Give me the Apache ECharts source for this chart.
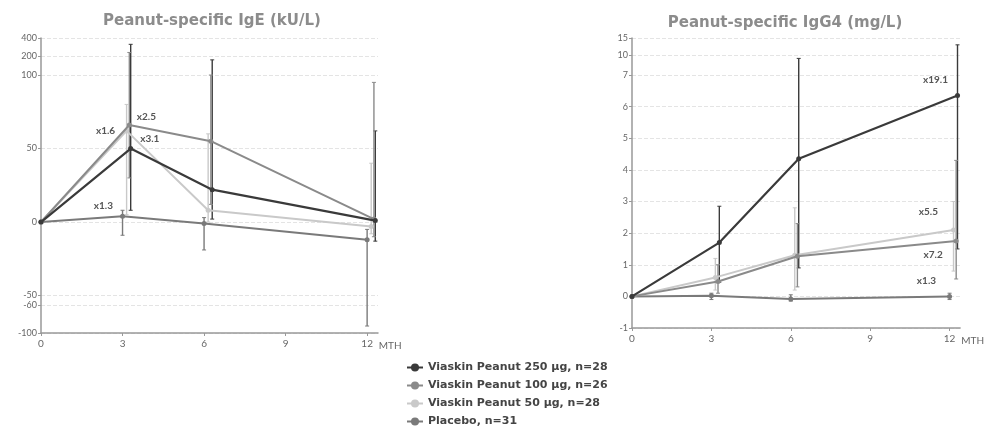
<!DOCTYPE html>
<html>
<head>
<meta charset="utf-8">
<script src="https://cdn.jsdelivr.net/npm/echarts@6/dist/echarts.min.js"></script>
<style>
  html, body { margin: 0; padding: 0; background: #fff; }
  #chart { width: 987px; height: 437px; }
</style>
</head>
<body>
<div id="chart"></div>
<script>
// --- data ---
const seriesNames = ['Viaskin Peanut 250 µg, n=28', 'Viaskin Peanut 100 µg, n=26', 'Viaskin Peanut 50 µg, n=28', 'Placebo, n=31'];
const seriesColors = ['#3a3a3a', '#8a8a8a', '#c9c9c9', '#7a7a7a'];
const monthTicks = [0, 3, 6, 9, 12];

// visit month per group (groups slightly dodged on the x axis)
const monthsX = [
  [0, 3.3, 6.3, 12.3],
  [0, 3.25, 6.25, 12.25],
  [0, 3.15, 6.15, 12.15],
  [0, 3.0, 6.0, 12.0]
];

// Peanut-specific IgE (kU/L), change from baseline
const ige250 = [0, 50, 22, 1];
const ige100 = [0, 66, 55, 2];
const ige50 = [0, 62, 8, -3];
const igePlacebo = [0, 4, -1, -12];
const ige250Lo = [null, 8, 2, -13];
const ige250Hi = [null, 330, 180, 62];
const ige100Lo = [null, 30, 12, -10];
const ige100Hi = [null, 240, 100, 95];
const ige50Lo = [null, 5, 0, -8];
const ige50Hi = [null, 80, 60, 40];
const igePlaceboLo = [null, -9, -19, -90];
const igePlaceboHi = [null, 8, 3, -5];
const igeTickValues = [400, 200, 100, 50, 0, -50, -60, -100];
const igeLabels = ['x3.1', 'x2.5', 'x1.6', 'x1.3'];

// Peanut-specific IgG4 (mg/L)
const igg250 = [0, 1.7, 4.35, 6.35];
const igg100 = [0, 0.47, 1.27, 1.75];
const igg50 = [0, 0.6, 1.3, 2.1];
const iggPlacebo = [0, 0.02, -0.08, 0.0];
const igg250Lo = [null, 0.45, 0.9, 1.5];
const igg250Hi = [null, 2.85, 9.5, 13];
const igg100Lo = [null, 0.1, 0.3, 0.55];
const igg100Hi = [null, 1.0, 2.3, 4.3];
const igg50Lo = [null, 0.2, 0.2, 0.8];
const igg50Hi = [null, 1.2, 2.8, 3.0];
const iggPlaceboLo = [null, -0.1, -0.15, -0.1];
const iggPlaceboHi = [null, 0.1, 0.05, 0.1];
const iggTickValues = [15, 10, 7, 6, 5, 4, 3, 2, 1, 0, -1];
const iggLabels = ['x19.1', 'x7.2', 'x5.5', 'x1.3'];

// broken axes: real value -> axis position (piecewise linear)
const igeBreakReal = [-100, -60, -50, 100, 200, 400];
const igeBreakPos = [-75.5, -56.5, -50, 100, 112.9, 125.2];
const iggBreakReal = [-1, 7, 10, 15];
const iggBreakPos = [-1, 7, 7.63, 8.17];

function makeScale(realArr, posArr) {
  return (v) => {
    if (v == null) return null;
    for (let i = 0; i < realArr.length - 1; i++) {
      if (v <= realArr[i + 1] || i === realArr.length - 2) {
        const t = (v - realArr[i]) / (realArr[i + 1] - realArr[i]);
        return posArr[i] + t * (posArr[i + 1] - posArr[i]);
      }
    }
  };
}
const igeScale = makeScale(igeBreakReal, igeBreakPos);
const iggScale = makeScale(iggBreakReal, iggBreakPos);

const chart = echarts.init(document.getElementById('chart'), null, { renderer: 'canvas' });
const FONT = 'Lato, "Open Sans", sans-serif';
const WIDE = '"DejaVu Sans", sans-serif';

function tickAxis(scale, values) {
  const pos = values.map(scale);
  return {
    pos,
    label: (p) => {
      const i = pos.findIndex(q => Math.abs(q - p) < 1e-6);
      return i >= 0 ? String(values[i]) : '';
    }
  };
}
const igeTicks = tickAxis(igeScale, igeTickValues);
const iggTicks = tickAxis(iggScale, iggTickValues);

// annotations: which point of which group carries the fold-change text
const igeAnno = [
  { s: 0, i: 1, pos: 'right', off: [2, -10] },
  { s: 1, i: 1, pos: 'right', off: [0, -8] },
  { s: 2, i: 1, pos: 'left', off: [-4, 0] },
  { s: 3, i: 1, pos: 'left', off: [-2, -10] }
];
const iggAnno = [
  { s: 0, i: 3, pos: 'left', off: [-2, -16] },
  { s: 1, i: 3, pos: 'left', off: [-6, 14] },
  { s: 2, i: 3, pos: 'left', off: [-8, -18] },
  { s: 3, i: 3, pos: 'left', off: [-6, -16] }
];

function lineSeries(name, idx, xs, ys, scale, gridIdx, anno, labels) {
  const data = ys.map((y, i) => {
    const item = { value: [xs[i], scale(y)] };
    const a = anno.find(a => a.s === idx && a.i === i);
    if (a) {
      item.label = {
        show: true, formatter: labels[idx], position: a.pos, offset: a.off,
        color: '#555', fontSize: 10, fontFamily: FONT, fontWeight: 'bold'
      };
    }
    return item;
  });
  return {
    type: 'line', name, xAxisIndex: gridIdx, yAxisIndex: gridIdx, data,
    symbol: 'circle', symbolSize: 5, z: 5 - idx,
    lineStyle: { color: seriesColors[idx], width: idx === 0 ? 2.2 : 2 },
    itemStyle: { color: seriesColors[idx] },
    emphasis: { disabled: true }
  };
}

function errSeries(name, idx, xs, lo, hi, scale, gridIdx) {
  const data = [];
  xs.forEach((x, i) => {
    if (lo[i] != null) data.push([x, scale(lo[i]), scale(hi[i])]);
  });
  return {
    type: 'custom', name, xAxisIndex: gridIdx, yAxisIndex: gridIdx, data, z: 1,
    silent: true,
    itemStyle: { color: seriesColors[idx] },
    renderItem: (params, api) => {
      const a = api.coord([api.value(0), api.value(1)]);
      const b = api.coord([api.value(0), api.value(2)]);
      const c = seriesColors[idx];
      return {
        type: 'group',
        children: [
          { type: 'line', shape: { x1: a[0], y1: a[1], x2: b[0], y2: b[1] }, style: { stroke: c, lineWidth: 1.4 } },
          { type: 'line', shape: { x1: a[0] - 2, y1: a[1], x2: a[0] + 2, y2: a[1] }, style: { stroke: c, lineWidth: 1 } },
          { type: 'line', shape: { x1: b[0] - 2, y1: b[1], x2: b[0] + 2, y2: b[1] }, style: { stroke: c, lineWidth: 1 } }
        ]
      };
    }
  };
}

const igeMeans = [ige250, ige100, ige50, igePlacebo];
const igeLo = [ige250Lo, ige100Lo, ige50Lo, igePlaceboLo];
const igeHi = [ige250Hi, ige100Hi, ige50Hi, igePlaceboHi];
const iggMeans = [igg250, igg100, igg50, iggPlacebo];
const iggLo = [igg250Lo, igg100Lo, igg50Lo, iggPlaceboLo];
const iggHi = [igg250Hi, igg100Hi, igg50Hi, iggPlaceboHi];

const series = [];
seriesNames.forEach((n, k) => {
  series.push(lineSeries(n, k, monthsX[k], igeMeans[k], igeScale, 0, igeAnno, igeLabels));
  series.push(lineSeries(n, k, monthsX[k], iggMeans[k], iggScale, 1, iggAnno, iggLabels));
});
seriesNames.forEach((n, k) => {
  series.push(errSeries(n, k, monthsX[k], igeLo[k], igeHi[k], igeScale, 0));
  series.push(errSeries(n, k, monthsX[k], iggLo[k], iggHi[k], iggScale, 1));
});

function xAxis(gridIndex) {
  return {
    type: 'value', gridIndex, min: 0, max: 12.4,
    name: 'MTH', nameLocation: 'end', nameGap: -6,
    nameTextStyle: { color: '#666', fontSize: 10, fontFamily: FONT, verticalAlign: 'top', align: 'left', padding: [8, 0, 0, 0] },
    axisLine: { onZero: false, lineStyle: { color: '#999', width: 1.5 } },
    axisTick: { customValues: monthTicks, length: 3, lineStyle: { color: '#999' } },
    axisLabel: { customValues: monthTicks, color: '#666', fontSize: 10, fontFamily: FONT, margin: 6 },
    splitLine: { show: false }
  };
}
function yAxis(gridIndex, ticks, min, max) {
  return {
    type: 'value', gridIndex, min, max,
    axisLine: { show: true, onZero: false, lineStyle: { color: '#999', width: 1.5 } },
    axisTick: { show: true, customValues: ticks.pos, length: 3, lineStyle: { color: '#999' } },
    axisLabel: { customValues: ticks.pos, formatter: ticks.label, color: '#666', fontSize: 9, fontFamily: FONT, margin: 4 },
    splitLine: { show: true, lineStyle: { color: '#e4e4e4', type: 'dashed', width: 1 } }
  };
}

chart.setOption({
  animation: false,
  title: [
    { text: 'Peanut-specific IgE (kU/L)', left: 207, top: 9, textAlign: 'center',
      textStyle: { color: '#8c8c8c', fontSize: 15, fontWeight: 'bold', fontFamily: WIDE } },
    { text: 'Peanut-specific IgG4 (mg/L)', left: 780, top: 11, textAlign: 'center',
      textStyle: { color: '#8c8c8c', fontSize: 15, fontWeight: 'bold', fontFamily: WIDE } }
  ],
  legend: {
    orient: 'vertical', left: 401, top: 357, itemGap: 7, itemWidth: 16, itemHeight: 10,
    data: seriesNames,
    textStyle: { color: '#444', fontSize: 11, fontWeight: 'bold', fontFamily: WIDE }
  },
  grid: [
    { left: 41, top: 38, width: 337, height: 295 },
    { left: 632, top: 38, width: 331, height: 290 }
  ],
  xAxis: [xAxis(0), xAxis(1)],
  yAxis: [
    yAxis(0, igeTicks, igeScale(-100), igeScale(400)),
    yAxis(1, iggTicks, iggScale(-1), iggScale(15))
  ],
  series
});
</script>
</body>
</html>
